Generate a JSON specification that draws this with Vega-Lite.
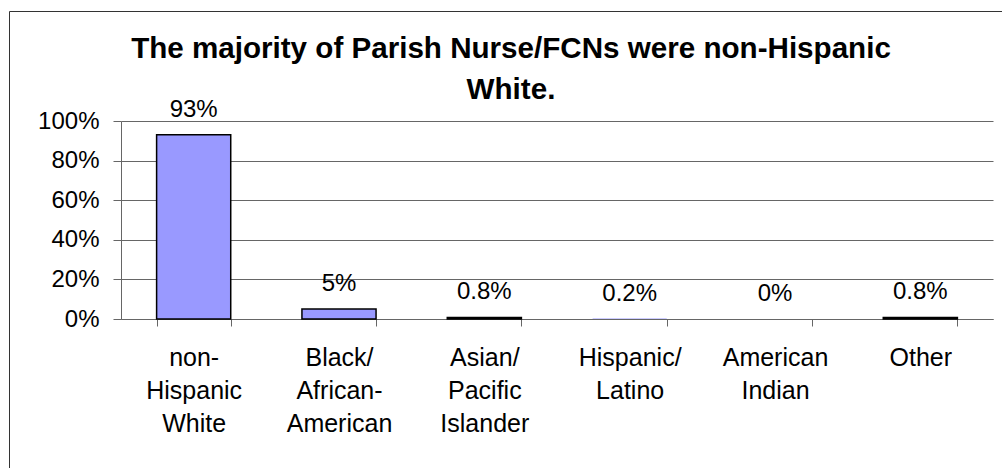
{
  "$schema": "https://vega.github.io/schema/vega-lite/v6.json",
  "width": 1000,
  "height": 470,
  "autosize": {"type": "none"},
  "padding": {"left": 9, "top": 11, "right": -7, "bottom": -13},
  "background": "white",
  "config": {
    "font": "Liberation Sans",
    "view": {"stroke": "#333333", "strokeWidth": 1}
  },
  "title": {
    "text": ["The majority of Parish Nurse/FCNs were non-Hispanic", "White."],
    "font": "Liberation Sans",
    "fontSize": 29.6,
    "fontWeight": "bold",
    "color": "black",
    "lineHeight": 41,
    "anchor": "middle",
    "baseline": "alphabetic",
    "offset": -118,
    "dx": 2
  },
  "data": {
    "values": [
      {"category": "non-Hispanic White", "pct": 0.93},
      {"category": "Black/African-American", "pct": 0.05},
      {"category": "Asian/Pacific Islander", "pct": 0.008},
      {"category": "Hispanic/Latino", "pct": 0.002},
      {"category": "American Indian", "pct": 0},
      {"category": "Other", "pct": 0.008}
    ]
  },
  "encoding": {
    "x": {
      "field": "category",
      "type": "nominal",
      "sort": null,
      "scale": {"range": [112, 984], "paddingInner": 0.49, "paddingOuter": 0.245},
      "axis": {
        "title": null,
        "labelAngle": 0,
        "tickBand": "extent",
        "offset": -162,
        "tickSize": 7,
        "tickColor": "#666666",
        "domainColor": "#666666",
        "labelFontSize": 25,
        "labelColor": "black",
        "labelLineHeight": 33,
        "labelBaseline": "top",
        "labelPadding": 19,
        "grid": false,
        "labelExpr": "datum.label == 'non-Hispanic White' ? ['non-','Hispanic','White'] : datum.label == 'Black/African-American' ? ['Black/','African-','American'] : datum.label == 'Asian/Pacific Islander' ? ['Asian/','Pacific','Islander'] : datum.label == 'Hispanic/Latino' ? ['Hispanic/','Latino'] : datum.label == 'American Indian' ? ['American','Indian'] : datum.label"
      }
    },
    "y": {
      "field": "pct",
      "type": "quantitative",
      "scale": {"domain": [0, 1], "range": [308, 110]},
      "axis": {
        "title": null,
        "values": [0, 0.2, 0.4, 0.6, 0.8, 1],
        "format": ".0%",
        "offset": -112,
        "grid": true,
        "gridColor": "#666666",
        "domainColor": "#666666",
        "tickColor": "#666666",
        "tickSize": 8,
        "labelFontSize": 24,
        "labelColor": "black",
        "labelPadding": 14
      }
    }
  },
  "layer": [
    {
      "mark": {"type": "bar", "fill": "#9999FF", "stroke": "black", "strokeWidth": 1.5},
      "encoding": {
        "strokeOpacity": {"condition": {"test": "datum.pct < 0.005", "value": 0}, "value": 1}
      }
    },
    {
      "mark": {"type": "text", "fontSize": 24, "baseline": "alphabetic", "dy": -18, "fill": "black"},
      "encoding": {
        "text": {"field": "pct", "format": ".1~%"}
      }
    }
  ]
}
